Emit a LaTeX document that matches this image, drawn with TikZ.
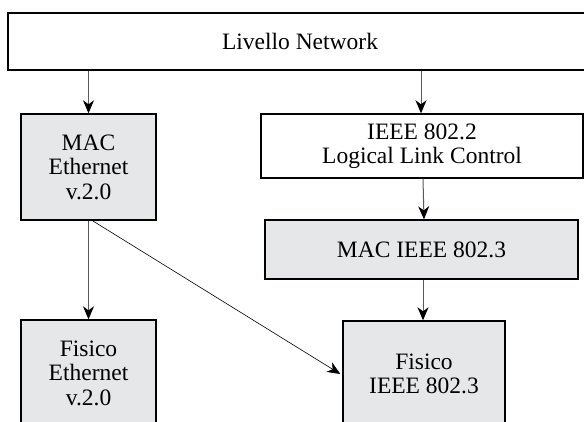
\documentclass[tikz,border=0pt]{standalone}
\usepackage{fontspec}
\setmainfont{Liberation Serif}
\usetikzlibrary{arrows.meta}
\definecolor{boxgray}{HTML}{E6E7E9}
\begin{document}
\begin{tikzpicture}[x=1pt,y=-1pt,
  layerbox/.style={draw=black, line width=1.4pt, rectangle, inner sep=0pt, align=center,
    font=\fontsize{23.5}{24.5}\selectfont},
  graybox/.style={layerbox, fill=boxgray},
  whitebox/.style={layerbox, fill=white},
  vconn/.style={draw=black!65, line width=1pt, -{Stealth[length=13pt,width=11pt,inset=4pt,color=black]}},
  dconn/.style={draw=black, line width=0.6pt, -{Stealth[length=13pt,width=11pt,inset=4pt]}}
]
\useasboundingbox (0,0) rectangle (584,421);
\clip (0,0) rectangle (584,421);
\node[whitebox, minimum width=620pt, minimum height=57pt] (net) at (318,41.5) {};
\node[font=\fontsize{23.5}{24.5}\selectfont, inner sep=0pt] (nettext) at (300,41.5) {Livello Network};
\node[graybox, minimum width=135pt, minimum height=106pt] (macE) at (88.5,167) {MAC\\Ethernet\\v.2.0};
\node[whitebox, minimum width=322pt, minimum height=64pt] (llc) at (422,146) {IEEE 802.2\\Logical Link Control};
\node[graybox, minimum width=313pt, minimum height=59pt] (macI) at (421.5,249.5) {MAC IEEE 802.3};
\node[graybox, minimum width=135pt, minimum height=106pt] (fisE) at (88.5,373) {Fisico\\Ethernet\\v.2.0};
\node[graybox, minimum width=162pt, minimum height=106pt] (fisI) at (424,374) {Fisico\\IEEE 802.3};
\draw[vconn] (net.south -| macE.north) -- (macE.north);
\draw[vconn] ([xshift=-1pt]net.south -| llc.north) -- ([xshift=-1pt]llc.north);
\draw[vconn] ([xshift=1pt]llc.south) -- ([xshift=2.5pt]macI.north);
\draw[vconn] ([xshift=1.5pt]macI.south) -- ([xshift=-1pt]fisI.north);
\draw[vconn] (macE.south) -- (fisE.north);
\draw[dconn] ([xshift=4pt]macE.south) -- ([xshift=-2pt]fisI.west);
\end{tikzpicture}
\end{document}
